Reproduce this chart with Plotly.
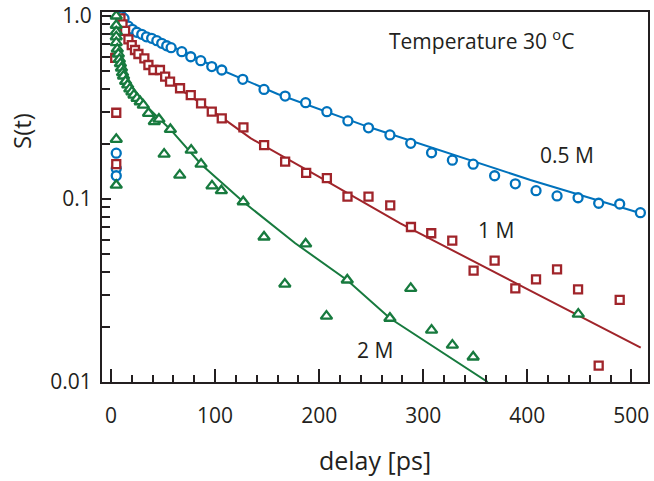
import plotly.graph_objects as go

# ---- data ----
blue_t = [5, 5, 5, 10, 12.5, 16.7, 20.5, 24.7, 29.5, 34, 39, 44, 48.7, 53.5, 57.7,
          68, 76.6, 86.2, 96.8, 106.4, 126.6, 147, 167.3, 187, 207.4, 227.6, 247.4,
          268, 288, 308, 328, 348, 368.6, 388.5, 408.4, 428.6, 448.8, 468.6, 488.8, 508.7]
blue_s = [0.178, 0.147, 0.134, 1.0, 0.97, 0.88, 0.846, 0.815, 0.794, 0.77, 0.755, 0.733, 0.709, 0.688, 0.671,
          0.638, 0.599, 0.570, 0.529, 0.507, 0.451, 0.397, 0.365, 0.336, 0.300, 0.267, 0.245,
          0.224, 0.2015, 0.179, 0.163, 0.155, 0.134, 0.121, 0.111, 0.104, 0.1016, 0.0948, 0.0939, 0.0842]

red_t = [4, 5, 5, 9, 11, 13.5, 16.7, 19.9, 23, 26.3, 32, 35.9, 40.7, 47, 52, 56.7,
         66.3, 76.6, 86.5, 96.8, 106.4, 127.2, 147.1, 167.3, 187.5, 207.4, 227.2, 247.4,
         268.3, 288.2, 307.7, 327.9, 348.4, 368.6, 388.5, 408.4, 428.6, 448.8, 468.6, 488.8]
red_s = [0.59, 0.296, 0.155, 0.97, 0.90, 0.83, 0.745, 0.694, 0.652, 0.620, 0.587, 0.540, 0.507, 0.507, 0.466, 0.438,
         0.403, 0.370, 0.333, 0.300, 0.276, 0.246, 0.197, 0.160, 0.139, 0.130, 0.103, 0.103,
         0.0924, 0.0703, 0.065, 0.0592, 0.0406, 0.046, 0.0325, 0.0364, 0.0413, 0.0321, 0.0123, 0.0281]

green_t = [5, 5, 5, 5, 5, 5, 5, 6, 7, 8, 9, 10, 11, 12, 14, 16, 18, 20, 22, 25, 28, 31, 36,
           41.6, 46, 51, 57, 66, 77, 86.5, 97, 106, 127, 147, 167, 187, 207, 227, 268,
           288, 308, 328, 348, 449]
green_s = [1.0, 0.89, 0.82, 0.77, 0.715, 0.212, 0.119, 0.66, 0.62, 0.58, 0.55, 0.52, 0.49, 0.47, 0.44,
           0.42, 0.40, 0.385, 0.37, 0.355, 0.34, 0.326, 0.294, 0.265, 0.273, 0.176, 0.240, 0.135,
           0.185, 0.155, 0.118, 0.111, 0.0966, 0.0620, 0.0343, 0.0568, 0.0229, 0.0361, 0.0223,
           0.0325, 0.0192, 0.0159, 0.0137, 0.0235]

blue_fit_t = [8, 20, 40, 66, 106, 160, 247, 278, 403, 509]
blue_fit_s = [1.0, 0.85, 0.75, 0.652, 0.507, 0.375, 0.248, 0.217, 0.127, 0.0835]

red_fit_t = [8, 20, 40, 66, 110, 134, 200, 278, 400, 509]
red_fit_s = [0.95, 0.70, 0.52, 0.40, 0.270, 0.215, 0.132, 0.0736, 0.0322, 0.0154]

green_fit_t = [5, 8, 10, 15, 20, 31, 57, 86.5, 127, 177, 227, 268, 362]
green_fit_s = [1.0, 0.64, 0.53, 0.43, 0.385, 0.335, 0.240, 0.155, 0.0966, 0.0573, 0.036, 0.0223, 0.0100]

x_ticks = [0, 100, 200, 300, 400, 500]
y_ticks = [0.01, 0.1, 1.0]
y_tick_text = ["0.01", "0.1", "1.0"]

BLUE = "#0072BC"
RED = "#A0242A"
GREEN = "#177A3E"
INK = "#231F20"
FONT = "Open Sans"

fig = go.Figure()
for t, s, c in [(blue_fit_t, blue_fit_s, BLUE), (red_fit_t, red_fit_s, RED), (green_fit_t, green_fit_s, GREEN)]:
    fig.add_trace(go.Scatter(x=t, y=s, mode="lines", line=dict(color=c, width=2), showlegend=False,
                             hoverinfo="skip"))

for t, s, c, sym, sz in [(blue_t, blue_s, BLUE, "circle", 9),
                         (red_t, red_s, RED, "square", 8),
                         (green_t, green_s, GREEN, "triangle-up", 10)]:
    fig.add_trace(go.Scatter(x=t, y=s, mode="markers", showlegend=False,
                             marker=dict(symbol=sym, size=sz, color="white",
                                         line=dict(color=c, width=2.3))))

minor_y = [m * 10 ** e for e in (-2, -1) for m in range(2, 10)]

W, H = 654, 481
L, R, T, B = 102, 6, 12, 99
pw, ph = W - L - R, H - T - B


def px(x):
    return (x - L) / pw


def py(y):
    return (H - B - y) / ph


fig.update_layout(
    width=W, height=H,
    margin=dict(l=L, r=R, t=T, b=B, autoexpand=False),
    paper_bgcolor="white", plot_bgcolor="white",
    font=dict(family=FONT, color=INK, size=21),
    xaxis=dict(range=[-8.7, 516], tickvals=x_ticks, ticks="inside", ticklen=13, tickwidth=1.5,
               tickcolor=INK, showline=True, linewidth=2, linecolor=INK, mirror=True,
               showgrid=False, zeroline=False, ticklabelstandoff=14,
               tickfont=dict(size=21),
               minor=dict(dtick=20, tick0=0, ticks="inside", ticklen=7, tickwidth=1.5, tickcolor=INK),
               title=dict(text="delay [ps]", font=dict(size=25), standoff=24)),
    yaxis=dict(type="log", range=[-2, 0.0219], tickvals=y_ticks, ticktext=y_tick_text,
               ticks="inside", ticklen=9, tickwidth=1.5, tickcolor=INK,
               showline=True, linewidth=2, linecolor=INK, mirror=True,
               showgrid=False, zeroline=False, ticklabelstandoff=4, tickfont=dict(size=21),
               minor=dict(tickvals=minor_y, ticks="inside", ticklen=8, tickwidth=1.5, tickcolor=INK)),
    annotations=[
        dict(text="S(t)", textangle=-90, x=px(21), y=py(131), xref="paper", yref="paper",
             showarrow=False, font=dict(size=24), xanchor="center", yanchor="middle"),
        dict(text="Temperature 30 <sup>o</sup>C", x=px(481), y=py(39), xref="paper", yref="paper",
             showarrow=False, font=dict(size=21), xanchor="center", yanchor="middle"),
        dict(text="0.5 M", x=px(567), y=py(155), xref="paper", yref="paper",
             showarrow=False, font=dict(size=21), xanchor="center", yanchor="middle"),
        dict(text="1 M", x=px(496), y=py(230), xref="paper", yref="paper",
             showarrow=False, font=dict(size=21), xanchor="center", yanchor="middle"),
        dict(text="2 M", x=px(375), y=py(350), xref="paper", yref="paper",
             showarrow=False, font=dict(size=21), xanchor="center", yanchor="middle"),
    ],
)

fig.write_html("out.html", config=dict(displayModeBar=False),
               post_script="document.body.style.margin='0';document.body.style.overflow='hidden';")
